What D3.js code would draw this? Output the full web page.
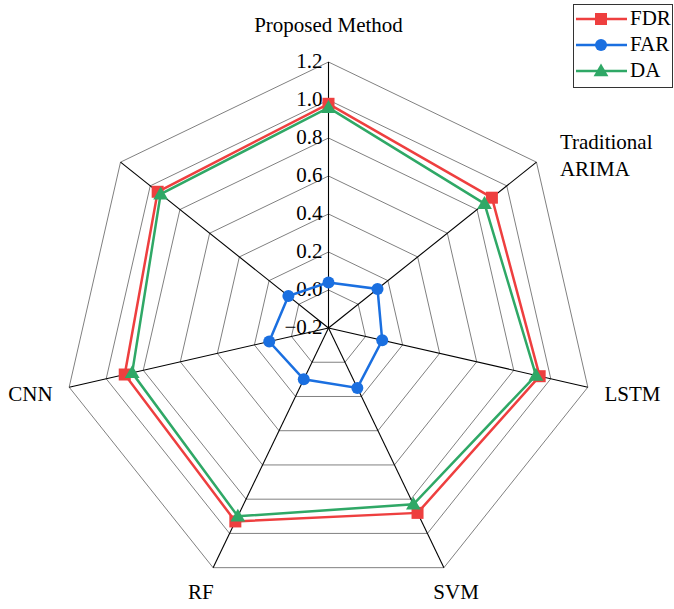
<!DOCTYPE html>
<html><head><meta charset="utf-8">
<script src="https://cdn.jsdelivr.net/npm/d3@7"></script>
<style>body{margin:0;background:#fff}svg{display:block}text{font-family:"Liberation Serif","Times New Roman",serif;fill:#000}</style>
</head><body><svg id="c" width="674" height="609"></svg>
<script>
const categories = ["Proposed Method", "Traditional\nARIMA", "LSTM", "SVM", "RF", "CNN", ""];
const FDR = [0.98, 0.90, 0.94, 0.88, 0.93, 0.90, 0.95];
const FAR = [0.04, 0.13, 0.09, 0.15, 0.10, 0.12, 0.07];
const DA  = [0.96, 0.85, 0.92, 0.83, 0.90, 0.86, 0.93];
const tickValues = [-0.2, 0.0, 0.2, 0.4, 0.6, 0.8, 1.0, 1.2];
const seriesNames = ["FDR", "FAR", "DA"];

const series = [
  {name: seriesNames[0], values: FDR, color: "#EE3F3F", marker: "square"},
  {name: seriesNames[1], values: FAR, color: "#1A6FE0", marker: "circle"},
  {name: seriesNames[2], values: DA,  color: "#2FA866", marker: "triangle"}
];

const svg = d3.select("#c");
const cx = 328.5, cy = 328, R = 266;
const n = categories.length;
const r = d3.scaleLinear().domain([-0.2, 1.2]).range([0, R]);
const ang = d3.scaleLinear().domain([0, n]).range([0, 2 * Math.PI]);
const pt = (i, v) => [cx + r(v) * Math.sin(ang(i)), cy - r(v) * Math.cos(ang(i))];

const g = svg.append("g");
tickValues.slice(1).forEach(t => {
  const pts = d3.range(n).map(i => pt(i, t));
  g.append("path").attr("d", d3.line()(pts) + "Z")
    .attr("fill", "none").attr("stroke", "#808080").attr("stroke-width", 1);
});
d3.range(n).forEach(i => {
  const [x, y] = pt(i, 1.2);
  g.append("line").attr("x1", cx).attr("y1", cy).attr("x2", x).attr("y2", y)
    .attr("stroke", "#000").attr("stroke-width", 1.1);
});
tickValues.forEach(t => {
  g.append("text").attr("x", cx - 6).attr("y", cy - r(t) + 1)
    .attr("text-anchor", "end").attr("dominant-baseline", "middle")
    .attr("font-size", 21).text(t < 0 ? "\u2212" + Math.abs(t).toFixed(1) : t.toFixed(1));
});
categories.forEach((c, i) => {
  if (!c) return;
  const a = ang(i), s = Math.sin(a), co = Math.cos(a);
  let rr = 283, anchor = "middle", off = 5;
  if (Math.abs(s) < 0.05) { rr = 306; }
  else if (co < -0.5) { rr = 294; off = 1; }
  else if (s > 0) anchor = "start"; else anchor = "end";
  const lines = c.split("\n");
  let x = cx + rr * s, y = cy - rr * co + off;
  if (lines.length > 1) { x = cx + 296 * s; y = cy - 296 * co + 1; }
  const tx = g.append("text").attr("x", x).attr("y", y).attr("text-anchor", anchor)
    .attr("dominant-baseline", "middle").attr("font-size", 21);
  lines.forEach((l, k) => tx.append("tspan").attr("x", x).attr("dy", k === 0 ? 0 : 27).text(l));
});

function drawMarker(sel, type, x, y, color) {
  if (type === "square") sel.append("rect").attr("x", x - 6).attr("y", y - 6).attr("width", 12).attr("height", 12).attr("fill", color);
  else if (type === "circle") sel.append("circle").attr("cx", x).attr("cy", y).attr("r", 6).attr("fill", color);
  else sel.append("path").attr("d", d3.symbol(d3.symbolTriangle, 95)()).attr("transform", `translate(${x},${y+1})`).attr("fill", color);
}

series.forEach(s => {
  const pts = s.values.map((v, i) => pt(i, v));
  g.append("path").attr("d", d3.line()(pts) + "Z").attr("fill", "none")
    .attr("stroke", s.color).attr("stroke-width", 2.5);
  const mg = g.append("g");
  pts.forEach(p => drawMarker(mg, s.marker, p[0], p[1], s.color));
});

const lg = svg.append("g");
lg.append("rect").attr("x", 573.5).attr("y", 4.5).attr("width", 99).attr("height", 83)
  .attr("fill", "#fff").attr("stroke", "#333").attr("stroke-width", 1);
series.forEach((s, k) => {
  const y = 19 + k * 26;
  lg.append("line").attr("x1", 576).attr("x2", 627).attr("y1", y).attr("y2", y).attr("stroke", s.color).attr("stroke-width", 2.5);
  drawMarker(lg, s.marker, 601, y, s.color);
  lg.append("text").attr("x", 630).attr("y", y + 1).attr("dominant-baseline", "middle").attr("font-size", 21).text(s.name);
});
</script></body></html>
